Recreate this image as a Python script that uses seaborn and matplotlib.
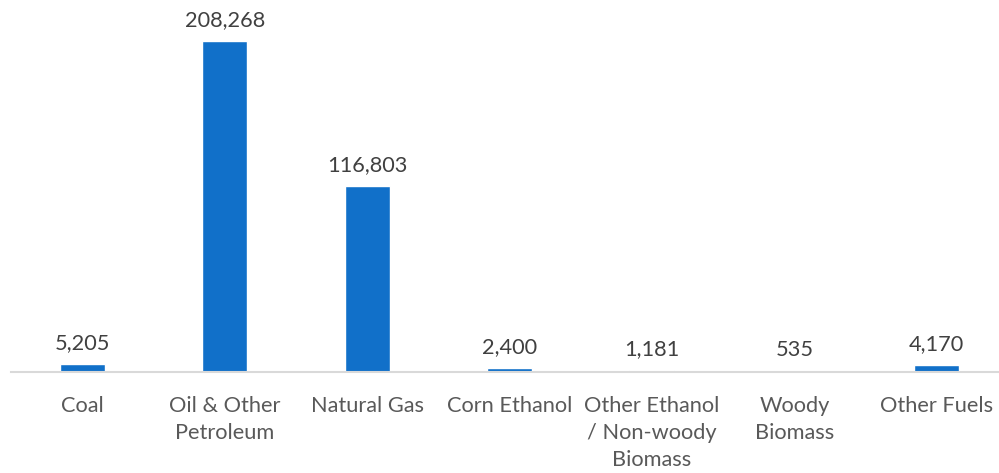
import matplotlib
matplotlib.use("Agg")
import matplotlib.pyplot as plt
import seaborn as sns
import pandas as pd

categories = ["Coal", "Oil & Other\nPetroleum", "Natural Gas", "Corn Ethanol",
              "Other Ethanol\n/ Non-woody\nBiomass", "Woody\nBiomass", "Other Fuels"]
values = [5205, 208268, 116803, 2400, 1181, 535, 4170]
value_labels = ["5,205", "208,268", "116,803", "2,400", "1,181", "535", "4,170"]

sns.set_theme(style="white")
plt.rcParams['font.family'] = ['Lato', 'DejaVu Sans']

df = pd.DataFrame({"cat": categories, "val": values})

fig = plt.figure(figsize=(9.99, 4.73), dpi=100)
ax = fig.add_axes([11/999, (473-372)/473, (999-11)/999, 372/473])
sns.barplot(data=df, x="cat", y="val", color="#1170C9", width=0.315, ax=ax, saturation=1)

ax.set_xlim(-0.5, 6.5 - 9/142.5)
ax.set_ylim(0, 208268 * 372 / 331)
for s in ["top", "right", "left"]:
    ax.spines[s].set_visible(False)
ax.spines["bottom"].set_color("#D9D9D9")
ax.spines["bottom"].set_linewidth(1.5)
ax.set_yticks([])
ax.set_xlabel("")
ax.set_ylabel("")
ax.tick_params(axis="x", length=0, pad=17, labelsize=15.7, colors="#595959")
for lab in ax.get_xticklabels():
    lab.set_linespacing(1.45)

for i, (v, t) in enumerate(zip(values, value_labels)):
    ax.annotate(t, (i, v), xytext=(0, 8), textcoords="offset points",
                ha="center", va="bottom", fontsize=15.7, color="#404040")

fig.savefig("out.png", dpi=100)
